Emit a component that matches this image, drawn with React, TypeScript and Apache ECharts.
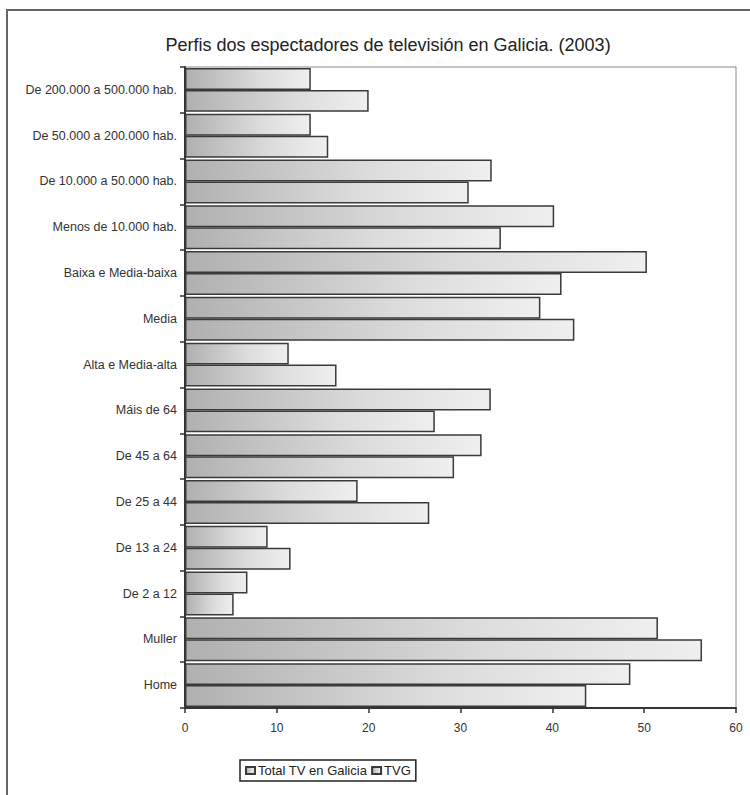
import React, { useEffect, useRef } from "react";
import * as echarts from "echarts";

const categories = [
  "Home",
  "Muller",
  "De 2 a 12",
  "De 13 a 24",
  "De 25 a 44",
  "De 45 a 64",
  "Máis de 64",
  "Alta e Media-alta",
  "Media",
  "Baixa e Media-baixa",
  "Menos de 10.000 hab.",
  "De 10.000 a 50.000 hab.",
  "De 50.000 a 200.000 hab.",
  "De 200.000 a 500.000 hab.",
];

const totalTV = [48.5, 51.5, 6.8, 9.0, 18.8, 32.3, 33.3, 11.3, 38.7, 50.3, 40.2, 33.4, 13.7, 13.7];
const tvg = [43.7, 56.3, 5.3, 11.5, 26.6, 29.3, 27.2, 16.5, 42.4, 41.0, 34.4, 30.9, 15.6, 20.0];

const xTicks = { min: 0, max: 60, interval: 10 };
const titleText = "Perfis dos espectadores de televisión en Galicia. (2003)";
const seriesNames = ["Total TV en Galicia", "TVG"];

const FONT = "'Liberation Sans', Arial, sans-serif";

function barFill() {
  return new echarts.graphic.LinearGradient(0, 0, 1, 0, [
    { offset: 0, color: "#b0b0b0" },
    { offset: 0.6, color: "#dcdcdc" },
    { offset: 1, color: "#efefef" },
  ]);
}

export default function App() {
  const ref = useRef<HTMLDivElement>(null);
  useEffect(() => {
    if (!ref.current) return;
    const chart = echarts.init(ref.current, null, { renderer: "svg" });
    chart.setOption({
      animation: false,
      backgroundColor: "#ffffff",
      title: {
        text: titleText,
        left: 383,
        textAlign: "center",
        top: 31,
        textStyle: { fontFamily: FONT, fontSize: 18, fontWeight: "normal", color: "#222" },
      },
      graphic: [
        {
          type: "rect",
          shape: { x: 7, y: 10, width: 760, height: 800 },
          style: { fill: "none", stroke: "#666", lineWidth: 2 },
          silent: true,
        },
      ],
      legend: {
        data: seriesNames,
        left: 240,
        top: 760,
        orient: "horizontal",
        itemWidth: 9,
        itemHeight: 7,
        itemGap: 4,
        padding: [4, 5, 4, 5],
        borderColor: "#222",
        borderWidth: 1.5,
        textStyle: { fontFamily: FONT, fontSize: 13, color: "#222", padding: [0, 0, 0, -2] },
        icon: "rect",
      },
      grid: {
        left: 185,
        right: 14,
        top: 67,
        bottom: 87,
        show: true,
        borderColor: "#888",
        borderWidth: 1,
      },
      xAxis: {
        type: "value",
        min: xTicks.min,
        max: xTicks.max,
        interval: xTicks.interval,
        axisLine: { show: true, lineStyle: { color: "#333", width: 2 } },
        axisTick: { show: true, length: 5, lineStyle: { color: "#333", width: 1.5 } },
        splitLine: { show: false },
        axisLabel: { fontFamily: FONT, fontSize: 12, color: "#333", margin: 14 },
      },
      yAxis: {
        type: "category",
        data: categories,
        axisLine: { show: true, lineStyle: { color: "#333", width: 2 } },
        axisTick: { show: true, length: 5, lineStyle: { color: "#333", width: 1.5 } },
        axisLabel: { fontFamily: FONT, fontSize: 12.5, color: "#333", margin: 8 },
      },
      series: [
        {
          name: "Total TV en Galicia",
          type: "bar",
          data: totalTV,
          barGap: "0%",
          barCategoryGap: "4%",
          itemStyle: { color: barFill(), borderColor: "#3a3a3a", borderWidth: 1.5 },
        },
        {
          name: "TVG",
          type: "bar",
          data: tvg,
          barGap: "0%",
          barCategoryGap: "4%",
          itemStyle: { color: barFill(), borderColor: "#3a3a3a", borderWidth: 1.5 },
        },
      ],
    });
    return () => chart.dispose();
  }, []);
  return (
    <div
      ref={ref}
      style={{ position: "absolute", left: 0, top: 0, width: 750, height: 795 }}
    />
  );
}
